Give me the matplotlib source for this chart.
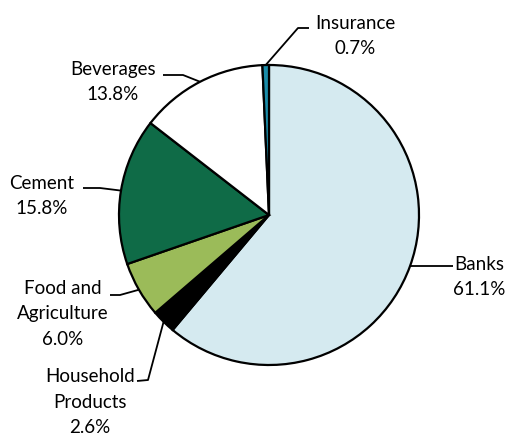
import numpy as np
import matplotlib
matplotlib.use("Agg")
import matplotlib.pyplot as plt

plt.rcParams['font.family'] = ['Lato', 'DejaVu Sans']

# data
sectors = ["Banks", "Household\nProducts", "Food and\nAgriculture", "Cement", "Beverages", "Insurance"]
shares = [61.1, 2.6, 6.0, 15.8, 13.8, 0.7]
colors = ["#d5eaf0", "#000000", "#9bbb59", "#0f6b47", "#ffffff", "#1a8ca8"]

W, H = 509, 437
cx, cy, R = 269, 215, 150  # pie centre / radius in pixels


def px(x, y):
    # pixel -> data coords (radius 1 = R px)
    return (x - cx) / R, (cy - y) / R


fig = plt.figure(figsize=(W / 100, H / 100), dpi=100)
ax = fig.add_axes([0, 0, 1, 1])

wedges, _ = ax.pie(shares, colors=colors, startangle=90, counterclock=False, radius=1,
                   wedgeprops=dict(edgecolor="black", linewidth=1.6))

# pie() resets the limits, so set them afterwards
ax.set_xlim(-cx / R, (W - cx) / R)
ax.set_ylim(-(H - cy) / R, cy / R)
ax.set_aspect("equal")
ax.axis("off")

# label layout: text centre, and polyline from text side to elbow (pixels)
text_pos = [(479, 277), (90, 402), (63, 314), (42, 196), (113, 82), (355, 36)]
elbows = [[(453, None)], [(137, 381), (148, 380)], [(110, 295), (120, 295)],
          [(83, 188), (100, 188)], [(163, 75), (183, 75)], [(309, 28), (298, 28)]]

for w, name, val, tp, el in zip(wedges, sectors, shares, text_pos, elbows):
    mid = np.deg2rad((w.theta1 + w.theta2) / 2)
    ex, ey = np.cos(mid), np.sin(mid)
    pts = []
    for (x, y) in el:
        if y is None:
            pts.append((px(x, 0)[0], ey))
        else:
            pts.append(px(x, y))
    pts.append((ex, ey))
    xs, ys = zip(*pts)
    ax.plot(xs, ys, color="black", lw=1.3, solid_capstyle="butt")
    tx, ty = px(*tp)
    ax.text(tx, ty, f"{name}\n{val:.1f}%", ha="center", va="center",
            fontsize=13.5, linespacing=1.6)

fig.savefig("out.png", dpi=100)
